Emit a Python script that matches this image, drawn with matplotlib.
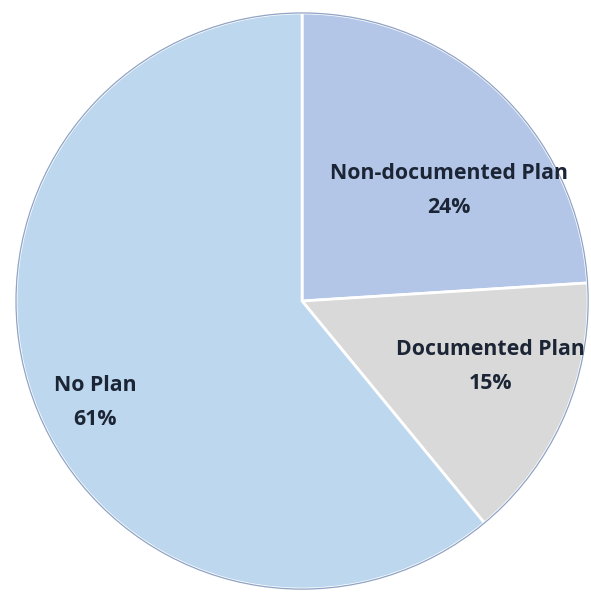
import matplotlib.pyplot as plt

labels = ['Non-documented Plan', 'Documented Plan', 'No Plan']
shares = [24, 15, 61]
colors = ['#b4c6e7', '#d9d9d9', '#bdd7ee']

# label anchor points inside each wedge (data units, radius = 1)
label_xy = [(0.514, 0.385), (0.657, -0.226), (-0.724, -0.351)]

fig = plt.figure(figsize=(5.91, 5.94), dpi=100)
ax = fig.add_axes([0, 0, 1, 1])

wedges, _ = ax.pie(shares, colors=colors, startangle=90, counterclock=False,
                   radius=1, wedgeprops=dict(edgecolor='white', linewidth=2))

# thin outer rim
rim = plt.Circle((0, 0), 1, fill=False, edgecolor='#8fa3c4', linewidth=0.9)
ax.add_patch(rim)

for lab, val, (x, y) in zip(labels, shares, label_xy):
    ax.text(x, y, f'{lab}\n{val}%', ha='center', va='center',
            fontsize=15.3, fontweight='bold', color='#1c2535',
            family='Open Sans', linespacing=1.8)

ax.set_xlim(-1.056, 1.010)
ax.set_ylim(-1.017, 1.045)
ax.set_aspect('auto')
ax.axis('off')

plt.savefig('out.png', dpi=100, facecolor='white')
